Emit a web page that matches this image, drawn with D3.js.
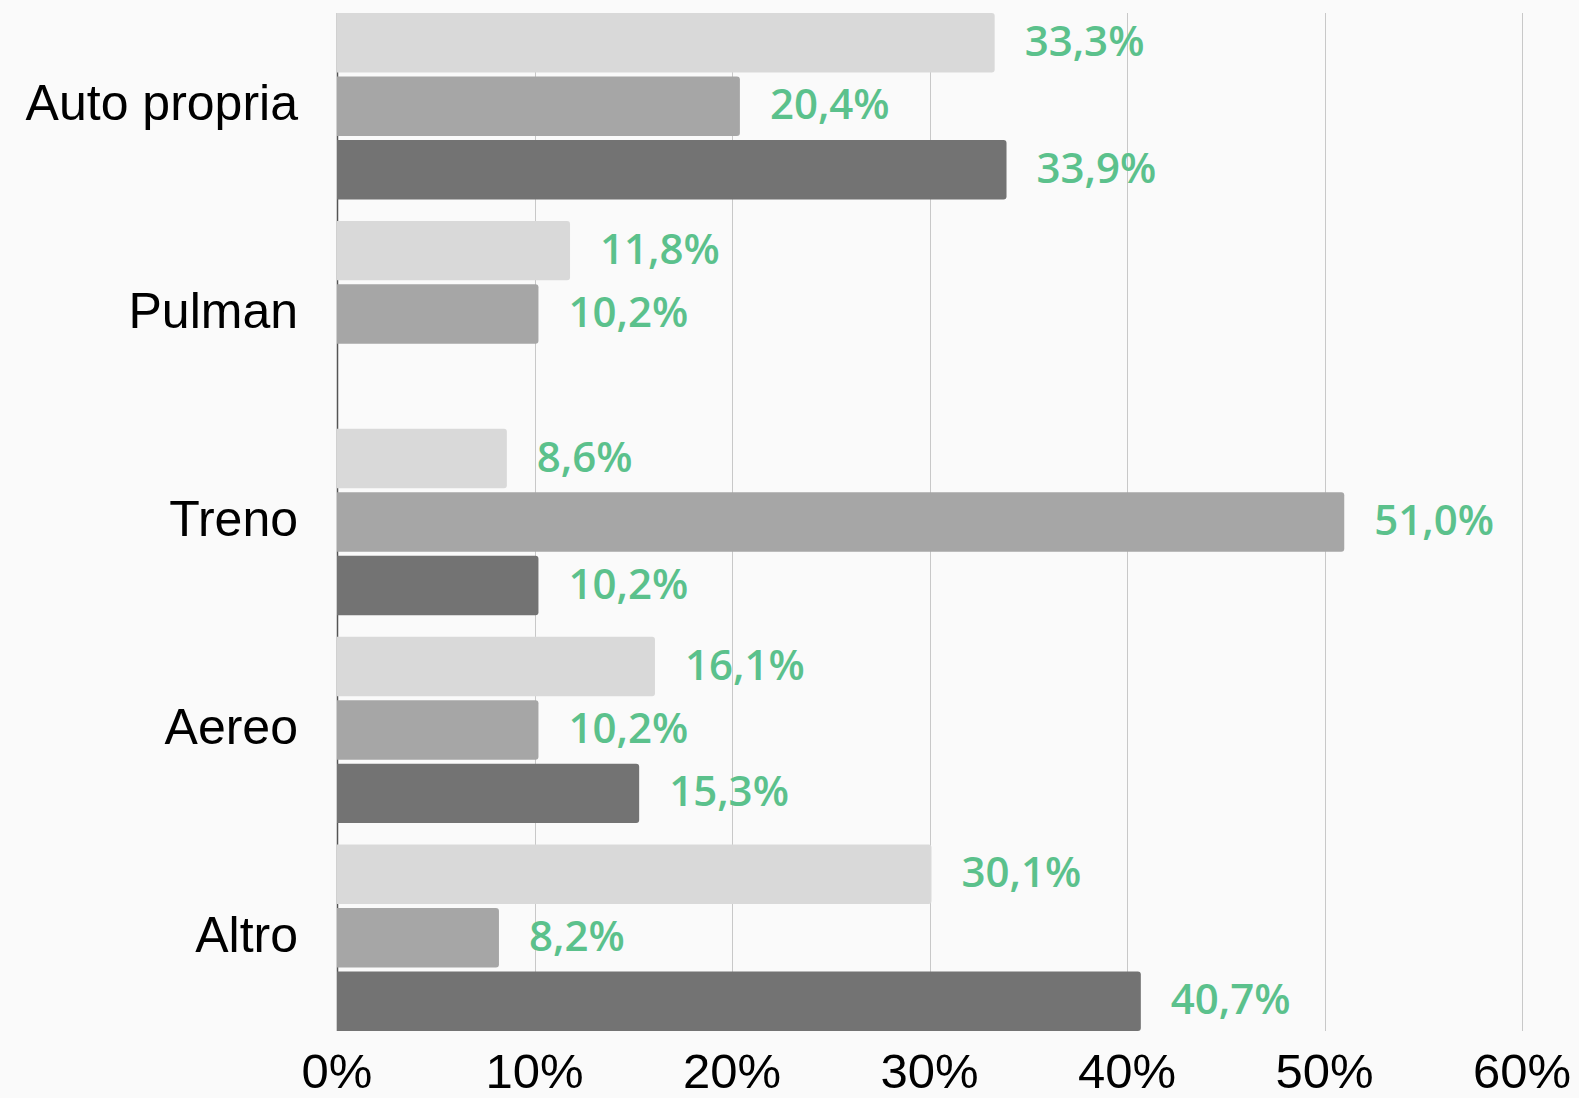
<!DOCTYPE html>
<html>
<head>
<meta charset="utf-8">
<script src="https://cdn.jsdelivr.net/npm/d3@7"></script>
<style>
  html, body { margin: 0; padding: 0; background: #fafafa; }
  svg { display: block; }
  .cat { font-family: "Liberation Sans", Arial, sans-serif; font-size: 50px; fill: #000; }
  .tick-label { font-family: "Liberation Sans", Arial, sans-serif; font-size: 49px; fill: #000; }
  .label { font-family: "Open Sans", sans-serif; font-weight: 600; font-size: 42px; fill: #5bc18c; }
</style>
</head>
<body>
<svg class="chart"></svg>
<script>
// Data
var categories = ["Auto propria", "Pulman", "Treno", "Aereo", "Altro"];
var series = ["s1", "s2", "s3"];
var seriesValues = [
    [33.3, 11.8, 8.6, 16.1, 30.1],   // light
    [20.4, 10.2, 51.0, 10.2, 8.2],   // medium
    [33.9, null, 10.2, 15.3, 40.7]   // dark
];
var tickValues = [0, 10, 20, 30, 40, 50, 60];
var colors = ["#d9d9d9", "#a6a6a6", "#737373"];

var chartW = 1579, chartH = 1098;
var plotLeft = 337, plotRight = 1522, plotTop = 13, plotBottom = 1031;

var chart = d3.select(".chart")
    .attr("width", chartW)
    .attr("height", chartH);

// Scales
var x = d3.scaleLinear().domain([0, 60]).range([plotLeft, plotRight]);
var y0 = d3.scaleBand().domain(categories).range([plotTop, plotBottom]).paddingInner(0.103);
var y1 = d3.scaleBand().domain(series).range([0, y0.bandwidth()]).paddingInner(0.063);

// Gridlines
chart.append("g")
    .selectAll("line")
    .data(tickValues.slice(1))
    .enter().append("line")
        .attr("x1", function(d) { return Math.round(x(d)) + 0.5; })
        .attr("x2", function(d) { return Math.round(x(d)) + 0.5; })
        .attr("y1", plotTop)
        .attr("y2", plotBottom)
        .attr("stroke", "#c8c8c8")
        .attr("stroke-width", 1);

// Y axis line
chart.append("line")
    .attr("x1", plotLeft + 0.5).attr("x2", plotLeft + 0.5)
    .attr("y1", plotTop).attr("y2", plotBottom)
    .attr("stroke", "#555")
    .attr("stroke-width", 1.5);

// Flatten values
var rows = [];
categories.forEach(function(c, i) {
    series.forEach(function(s, j) {
        if (seriesValues[j][i] != null) {
            rows.push({ cat: c, s: s, j: j, v: seriesValues[j][i] });
        }
    });
});

// Bars with rounded right end
function barPath(d) {
    var x0 = x(0), x1 = x(d.v);
    var yt = y0(d.cat) + y1(d.s), h = y1.bandwidth(), r = 3;
    return "M" + x0 + "," + yt +
        "H" + (x1 - r) +
        "Q" + x1 + "," + yt + " " + x1 + "," + (yt + r) +
        "V" + (yt + h - r) +
        "Q" + x1 + "," + (yt + h) + " " + (x1 - r) + "," + (yt + h) +
        "H" + x0 + "Z";
}

chart.selectAll(".bar")
        .data(rows)
    .enter().append("path")
        .attr("class", "bar")
        .attr("d", barPath)
        .attr("fill", function(d) { return colors[d.j]; });

// Value labels
chart.selectAll(".label")
        .data(rows)
    .enter().append("text")
        .attr("class", "label")
        .attr("x", function(d) { return x(d.v) + 30; })
        .attr("y", function(d) { return y0(d.cat) + y1(d.s) + y1.bandwidth() / 2 - 2; })
        .attr("dy", ".36em")
        .text(function(d) { return d.v.toFixed(1).replace(".", ",") + "%"; });

// Category labels
chart.selectAll(".cat")
        .data(categories)
    .enter().append("text")
        .attr("class", "cat")
        .attr("x", 298)
        .attr("y", function(d) { return y0(d) + y0.bandwidth() / 2; })
        .attr("dy", ".28em")
        .attr("text-anchor", "end")
        .text(function(d) { return d; });

// X tick labels
chart.selectAll(".tick-label")
        .data(tickValues)
    .enter().append("text")
        .attr("class", "tick-label")
        .attr("x", function(d) { return x(d); })
        .attr("y", 1088)
        .attr("text-anchor", "middle")
        .text(function(d) { return d + "%"; });
</script>
</body>
</html>
